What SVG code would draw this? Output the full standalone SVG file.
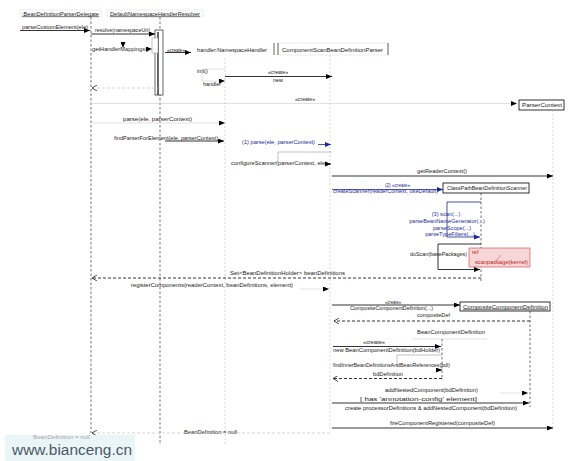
<svg xmlns="http://www.w3.org/2000/svg" width="572" height="461" viewBox="0 0 572 461">
<style>
text{font-family:"Liberation Sans",Arial,sans-serif;font-size:5.6px;fill:#222}
.b{fill:#1b2a9a}
.r{fill:#c02020}
.box{fill:#fff;stroke:#000;stroke-width:0.8}
.lbox{fill:#fff;stroke:#ddd;stroke-width:0.6}
.ll{stroke:#333;stroke-width:0.7;stroke-dasharray:2.5,2;fill:none}
.lll{stroke:#bbb;stroke-width:0.6;stroke-dasharray:2,2;fill:none}
.m{stroke:#000;stroke-width:0.8;fill:none;marker-end:url(#a)}
.mf{stroke:#ccc;stroke-width:0.6;fill:none;marker-end:url(#a)}
.mb{stroke:#1b2a9a;stroke-width:0.8;fill:none;marker-end:url(#ab)}
.rt{stroke:#000;stroke-width:0.8;stroke-dasharray:3,2;fill:none;marker-end:url(#o)}
.rtf{stroke:#bbb;stroke-width:0.6;stroke-dasharray:3,2;fill:none;marker-end:url(#o)}
.sc{stroke:#999;stroke-width:0.6;fill:none}
</style>
<defs>
<marker id="a" markerWidth="6" markerHeight="5" refX="6" refY="2.5" orient="auto" markerUnits="userSpaceOnUse"><path d="M0,0 L6,2.5 L0,5 z" fill="#000"/></marker>
<marker id="ab" markerWidth="6" markerHeight="5" refX="6" refY="2.5" orient="auto" markerUnits="userSpaceOnUse"><path d="M0,0 L6,2.5 L0,5 z" fill="#1b2a9a"/></marker>
<marker id="o" markerWidth="6" markerHeight="6" refX="5" refY="3" orient="auto" markerUnits="userSpaceOnUse"><path d="M0,0 L5,3 L0,6" fill="none" stroke="#000" stroke-width="0.7"/></marker>
</defs>
<rect width="572" height="461" fill="#fff"/>

<g id="delegate">
<rect class="lbox" x="20" y="10" width="81" height="7"/>
<text x="22" y="15.5" textLength="77" lengthAdjust="spacingAndGlyphs" text-decoration="underline">:BeanDefinitionParserDelegate</text>
<line class="ll" x1="91" y1="17" x2="91" y2="433"/>
</g>

<g id="resolver">
<rect class="lbox" x="107" y="10" width="96" height="7"/>
<text x="110" y="15.5" textLength="90" lengthAdjust="spacingAndGlyphs" text-decoration="underline">DefaultNamespaceHandlerResolver</text>
<line class="ll" x1="160" y1="17" x2="160" y2="445"/>
<rect x="155" y="30" width="8" height="65" fill="#fff" stroke="#000" stroke-width="0.6"/>
<line x1="158" y1="32" x2="158" y2="95" stroke="#000" stroke-width="1.2"/>
<rect x="152" y="38" width="6" height="15" fill="#fff" stroke="#999" stroke-width="0.6"/>
</g>

<g id="handler">
<text x="197" y="52" textLength="70" lengthAdjust="spacingAndGlyphs">handler:NamespaceHandler</text>
<line x1="274" y1="43" x2="274" y2="55" stroke="#000" stroke-width="0.6"/>
<line class="lll" x1="225" y1="58" x2="225" y2="445"/>
</g>

<g id="parser">
<rect class="lbox" x="278" y="43" width="110" height="12"/>
<line x1="278" y1="43" x2="278" y2="55" stroke="#000" stroke-width="0.6"/>
<line x1="388" y1="43" x2="388" y2="55" stroke="#000" stroke-width="0.6"/>
<text x="282" y="51.5" textLength="101" lengthAdjust="spacingAndGlyphs">ComponentScanBeanDefinitionParser</text>
<line class="lll" x1="330" y1="55" x2="330" y2="430"/>
</g>

<g id="parserContext">
<rect class="box" x="519" y="100" width="45" height="10"/>
<text x="522" y="106.8" textLength="40" lengthAdjust="spacingAndGlyphs">ParserContext</text>
<line class="lll" x1="553" y1="110" x2="553" y2="430"/>
</g>

<g id="scanner">
<rect class="box" x="443" y="183" width="86" height="10"/>
<text x="447" y="190" textLength="80" lengthAdjust="spacingAndGlyphs">ClassPathBeanDefinitionScanner</text>
<line class="ll" x1="481" y1="193" x2="481" y2="282"/>
</g>

<g id="composite">
<rect class="box" x="460" y="302" width="90" height="9"/>
<text x="463" y="308.5" textLength="85" lengthAdjust="spacingAndGlyphs" text-decoration="underline">CompositeComponentDefinition</text>
<line class="ll" x1="530" y1="311" x2="530" y2="407"/>
</g>

<g id="beanComponent">
<text x="417" y="334" textLength="68" lengthAdjust="spacingAndGlyphs">BeanComponentDefinition</text>
<line x1="412" y1="339" x2="487" y2="339" stroke="#ccc" stroke-width="0.6"/>
<line class="ll" x1="442" y1="339" x2="442" y2="380"/>
</g>

<g id="note">
<rect x="469" y="248" width="61" height="19" fill="#f6d6d6" stroke="#d04040" stroke-width="0.6"/>
<text class="r" x="472" y="254">ref</text>
<line x1="495" y1="262" x2="501" y2="255" stroke="#d04040" stroke-width="0.5"/>
<text class="r" x="475" y="264" textLength="53" lengthAdjust="spacingAndGlyphs">scanpackage(kernel)</text>
</g>

<g id="connectors">
<text x="22" y="28.5" textLength="66" lengthAdjust="spacingAndGlyphs">parseCustomElement(ele)</text>
<line class="m" x1="20" y1="30.5" x2="90" y2="30.5"/>
<text x="95" y="32" textLength="55" lengthAdjust="spacingAndGlyphs">resolve(namespaceUri)</text>
<line class="m" x1="91" y1="34" x2="155" y2="34"/>
<text x="92" y="50.5" textLength="57" lengthAdjust="spacingAndGlyphs">getHandlerMappings()</text>
<line class="mf" x1="123" y1="49" x2="152" y2="49"/>
<line class="mf" x1="123" y1="42" x2="123" y2="48"/>
<text x="167" y="51.5" textLength="18" lengthAdjust="spacingAndGlyphs">«create»</text>
<line class="m" x1="165" y1="52.5" x2="191" y2="52.5"/>

<text x="197" y="73" textLength="11" lengthAdjust="spacingAndGlyphs">init()</text>
<polyline class="mf" points="225,69 202,69 202,81 225,81"/>
<text x="203" y="86" textLength="18" lengthAdjust="spacingAndGlyphs">handler</text>
<text x="278" y="74" text-anchor="middle" textLength="20" lengthAdjust="spacingAndGlyphs">«create»</text>
<line class="m" x1="225" y1="76.5" x2="332" y2="76.5"/>
<text x="278" y="81.5" text-anchor="middle" textLength="10" lengthAdjust="spacingAndGlyphs">new</text>
<line class="rtf" x1="160" y1="88" x2="92" y2="88"/>

<text x="305" y="101" text-anchor="middle" textLength="20" lengthAdjust="spacingAndGlyphs">«create»</text>
<line class="mf" x1="91" y1="103.5" x2="517" y2="103.5"/>

<text x="123" y="120.5" textLength="69" lengthAdjust="spacingAndGlyphs">parse(ele, parserContext)</text>
<line class="mf" x1="91" y1="123" x2="225" y2="123"/>
<text x="114" y="140" textLength="104" lengthAdjust="spacingAndGlyphs">findParserForElement(ele, parserContext)</text>
<line class="m" x1="165" y1="141" x2="224" y2="141"/>

<text class="b" x="242" y="143.5" textLength="73" lengthAdjust="spacingAndGlyphs">(1) parse(ele, parserContext)</text>
<line class="mb" x1="318" y1="144.5" x2="331" y2="144.5"/>
<polyline class="sc" points="332,152 278,152 278,163"/>
<text x="231" y="165" textLength="96" lengthAdjust="spacingAndGlyphs">configureScanner(parserContext, ele)</text>
<line class="m" x1="327" y1="164" x2="331" y2="164"/>

<text x="442" y="172.5" text-anchor="middle" textLength="50" lengthAdjust="spacingAndGlyphs">getReaderContext()</text>
<line class="m" x1="332" y1="176" x2="553" y2="176"/>

<text class="b" x="385" y="186.5" textLength="25" lengthAdjust="spacingAndGlyphs">(2) «create»</text>
<line class="mb" x1="332" y1="189.5" x2="443" y2="189.5"/>
<text class="b" x="333" y="193" textLength="105" lengthAdjust="spacingAndGlyphs">createScanner(readerContext, useDefault)</text>

<polyline class="mb" points="481,202 447,202 447,237 480,237"/>
<text class="b" x="446" y="216" text-anchor="middle">(3) scan(...)</text>
<text class="b" x="447" y="223" text-anchor="middle">parseBeanNameGenerator(...)</text>
<text class="b" x="452" y="229.5" text-anchor="middle">parseScope(...)</text>
<text class="b" x="450" y="236" text-anchor="middle">parseTypeFilters(...)</text>

<polyline class="m" points="481,244 438,244 438,269.5 480,269.5"/>
<text x="410" y="256" textLength="57" lengthAdjust="spacingAndGlyphs">doScan(basePackages)</text>

<text x="230" y="274.5" textLength="115" lengthAdjust="spacingAndGlyphs">Set&lt;BeanDefinitionHolder&gt; beanDefinitions</text>
<line class="rt" x1="481" y1="278" x2="92" y2="278"/>

<text x="131" y="286.5" textLength="162" lengthAdjust="spacingAndGlyphs">registerComponents(readerContext, beanDefinitions, element)</text>
<line class="mf" x1="300" y1="289" x2="329" y2="289"/>

<text x="393" y="303.5" text-anchor="middle" textLength="16" lengthAdjust="spacingAndGlyphs">«create»</text>
<line class="m" x1="332" y1="305" x2="460" y2="305"/>
<text x="350" y="310" textLength="83" lengthAdjust="spacingAndGlyphs">CompositeComponentDefinition(...)</text>

<text x="417" y="317" textLength="33" lengthAdjust="spacingAndGlyphs">compositeDef</text>
<line class="rt" x1="530" y1="321" x2="334" y2="321"/>

<text x="363" y="344" style="font-size:4.5px" textLength="22" lengthAdjust="spacingAndGlyphs">«create»</text>
<line class="m" x1="333" y1="346.5" x2="441" y2="346.5"/>
<text x="333" y="351.5" textLength="107" lengthAdjust="spacingAndGlyphs">new BeanComponentDefinition(bdHolder)</text>

<polyline class="sc" points="442,355 397,355 397,366"/>
<text x="333" y="366.5" textLength="117" lengthAdjust="spacingAndGlyphs">findInnerBeanDefinitionsAndBeanReferences(bdl)</text>
<line class="m" x1="436" y1="370" x2="442" y2="370"/>

<text x="373" y="375.5" textLength="30" lengthAdjust="spacingAndGlyphs">bdDefinition</text>
<line class="rt" x1="442" y1="378.5" x2="333" y2="378.5"/>

<text x="385" y="391.5" textLength="93" lengthAdjust="spacingAndGlyphs">addNestedComponent(bdDefinition)</text>
<line class="mf" x1="500" y1="393" x2="528" y2="393"/>

<text x="360" y="401" textLength="117" lengthAdjust="spacingAndGlyphs">[ has 'annotation-config' element]</text>
<line class="m" x1="332" y1="403" x2="529" y2="403"/>
<text x="345" y="409.5" textLength="172" lengthAdjust="spacingAndGlyphs">create processorDefinitions &amp; addNestedComponent(bdDefinition)</text>

<text x="390" y="424.5" textLength="105" lengthAdjust="spacingAndGlyphs">fireComponentRegistered(compositeDef)</text>
<line class="m" x1="332" y1="428" x2="553" y2="428"/>

<text x="184" y="433.5" textLength="53" lengthAdjust="spacingAndGlyphs">BeanDefinition = null</text>
<line class="rtf" x1="330" y1="433" x2="92" y2="433"/>
</g>

<g id="watermark">
<rect x="5" y="435" width="130" height="26" fill="#eaf5f8"/>
<text x="33" y="438.5" style="font-size:4.5px;fill:#aaa" textLength="57" lengthAdjust="spacingAndGlyphs">BeanDefinition = null</text>
<text x="12" y="454.5" style="font-size:15.5px;fill:#4d5866" textLength="120" lengthAdjust="spacingAndGlyphs">www.bianceng.cn</text>
</g>
</svg>
